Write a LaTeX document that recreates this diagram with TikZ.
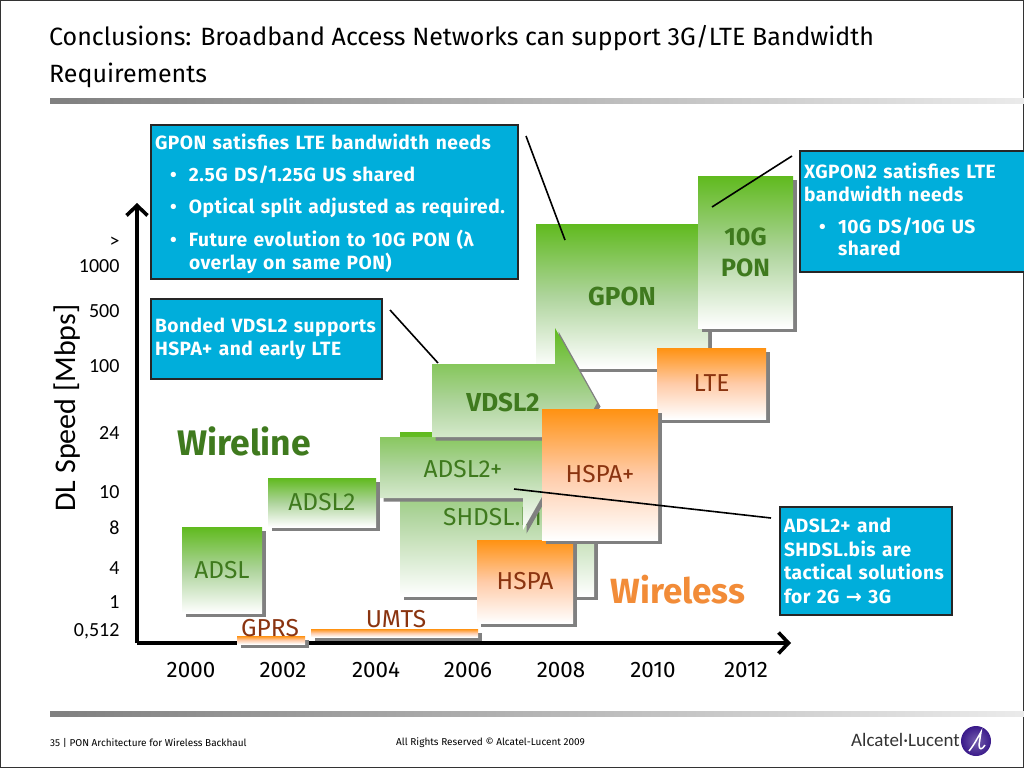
\documentclass[tikz,border=0pt]{standalone}
\usepackage{fontspec}
\usetikzlibrary{shadows,arrows.meta}
\setmainfont{Fira Sans}
\newfontfamily\axisfont{Carlito}
\newfontfamily\symfont{DejaVu Sans}
\newfontfamily\calloutfont{Fira Sans}[LetterSpace=2.5]
\newcommand{\fsize}[1]{\fontsize{#1}{#1}\selectfont}
\newcommand{\bul}{\makebox[38pt][l]{\hspace{19pt}\textbullet}}
\definecolor{wirelinegreen}{HTML}{60BA1E}
\definecolor{wirelessorange}{HTML}{FF9212}
\definecolor{greenmid}{HTML}{AED49C}
\definecolor{orangemid}{HTML}{FFCBA8}
\definecolor{greentext}{HTML}{3F7A1E}
\definecolor{orangetext}{HTML}{8A3410}
\definecolor{wirelesstext}{HTML}{F28C38}
\definecolor{calloutblue}{HTML}{00AEDB}
\definecolor{shadowgray}{HTML}{808080}
\definecolor{logoviolet}{HTML}{3A1A8A}
\begin{document}
\begin{tikzpicture}[
  x = 1pt,
  y = -1pt,
  blockshadow/.style = {
    general shadow = {fill = shadowgray, shadow xshift = 3.5pt, shadow yshift = -3.5pt}
  },
  greenblock/.style = {
    blockshadow,
    shape = rectangle,
    inner sep = 0pt,
    top color = wirelinegreen,
    bottom color = white,
    middle color = greenmid,
    text = greentext,
    font = \fsize{24.5}
  },
  orangeblock/.style = {
    blockshadow,
    shape = rectangle,
    inner sep = 0pt,
    top color = wirelessorange,
    bottom color = white,
    middle color = orangemid,
    text = orangetext,
    font = \fsize{24.5}
  },
  callout/.style = {
    shape = rectangle,
    anchor = north west,
    fill = calloutblue,
    draw = black!85,
    line width = 2pt,
    text = white,
    align = left,
    inner sep = 0pt,
    outer sep = 0pt,
    font = \calloutfont\fsize{19.2}\bfseries
  },
  ticklabel/.style = {
    anchor = east,
    font = \axisfont\fsize{20}
  },
  yearlabel/.style = {
    font = \fsize{22.4}
  },
  leader/.style = {
    line width = 1.6pt
  },
  axis/.style = {
    line width = 3.6pt,
    -{Straight Barb[length = 10pt, width = 21pt, line width = 3.6pt]}
  },
  rulebar/.style = {
    left color = black!50,
    right color = black!8,
    draw = none
  }
]
  \useasboundingbox (0, 0) rectangle (1024, 768);
  \fill[white] (0, 0) rectangle (1024, 768);
  \draw[black!80, line width = 1pt] (0.5, 0.5) rectangle (1023.5, 767.5);

  % title and footer
  \node[anchor = west, inner sep = 0pt, font = \fsize{25}] (title1) at (49, 38) {Conclusions: Broadband Access Networks can support 3G/LTE Bandwidth};
  \node[anchor = west, inner sep = 0pt, font = \fsize{25}] (title2) at (49, 75) {Requirements};
  \path[rulebar] (50, 98) rectangle (1024, 103);
  \path[rulebar] (50, 711) rectangle (1024, 716);
  \node[anchor = west, inner sep = 0pt, font = \fsize{10}] (pagenote) at (50, 743) {35 | PON Architecture for Wireless Backhaul};
  \node[anchor = west, inner sep = 0pt, font = \fsize{10}] (rights) at (396, 743) {All Rights Reserved © Alcatel-Lucent 2009};
  \node[anchor = west, inner sep = 0pt, text = black!80, font = \axisfont\fsize{19}] (brand) at (851, 740) {Alcatel·Lucent};
  \shade[inner color = logoviolet!70!white, outer color = logoviolet] (976, 741) circle (15);
  \draw[white, line width = 1.5pt] (969, 751) .. controls (974, 745) and (978, 737) .. (981, 732) -- (979, 745) .. controls (979, 750) and (982, 750) .. (985, 745);

  % axes
  \coordinate (origin) at (137, 643);
  \coordinate (ytop) at (137, 203);
  \coordinate (xend) at (791, 643);
  \draw[axis] (origin) -- (ytop);
  \draw[axis] (origin) -- (xend);
  \node[rotate = 90, font = \axisfont\fsize{30}] (ytitle) at (67, 408) {DL Speed [Mbps]};

  \node[ticklabel] (t1) at (123, 242) {>};
  \node[ticklabel] (t2) at (123, 266) {1000};
  \node[ticklabel] (t3) at (123, 311) {500};
  \node[ticklabel] (t4) at (123, 366) {100};
  \node[ticklabel] (t5) at (123, 433) {24};
  \node[ticklabel] (t6) at (123, 492) {10};
  \node[ticklabel] (t7) at (123, 528) {8};
  \node[ticklabel] (t8) at (123, 568) {4};
  \node[ticklabel] (t9) at (123, 602) {1};
  \node[ticklabel] (t10) at (123, 631) {0,512};

  \foreach \year/\xpos in {2000/191, 2002/283, 2004/376, 2006/468, 2008/561, 2010/653, 2012/746}
    \node[yearlabel] (y\year) at (\xpos, 670) {\year};

  % wireline blocks
  \node[greenblock, minimum width = 80pt, minimum height = 86pt] (adsl) at (222, 570) {ADSL};
  \node[greenblock, minimum width = 108pt, minimum height = 49pt] (adsl2) at (322, 502.5) {ADSL2};
  \node[greenblock, minimum width = 172pt, minimum height = 144pt, font = \fsize{26}\bfseries] (gpon) at (622, 296) {GPON};
  \node[greenblock, minimum width = 95pt, minimum height = 152pt, align = center, font = \fsize{25}\bfseries] (xpon) at (745.5, 252) {10G\\[6pt]PON};
  \path[greenblock] (400, 432) rectangle (594, 596);
  \node[anchor = west, text = greentext, font = \fsize{24.5}, inner sep = 0pt] (shdsl) at (443, 516) {SHDSL.bis};
  \path[greenblock] (380, 437) -- (523, 437) -- (523, 404) -- (559, 467) -- (523, 530) -- (523, 498) -- (380, 498) -- cycle;
  \node[text = greentext, font = \fsize{24.5}] (adslplus) at (463, 469) {ADSL2+};
  \path[greenblock] (432, 364) -- (555, 364) -- (555, 328) -- (597, 403) -- (555, 476) -- (555, 437) -- (432, 437) -- cycle;
  \node[text = greentext, font = \fsize{26}\bfseries] (vdsl) at (503, 402) {VDSL2};
  \node[font = \fsize{35.5}\bfseries, text = greentext] (wireline) at (244, 441) {Wireline};

  % wireless blocks
  \node[orangeblock, minimum width = 68pt, minimum height = 8pt] (gprsbar) at (271, 640) {};
  \node[text = orangetext, font = \fsize{24.5}] (gprs) at (270, 628) {GPRS};
  \node[orangeblock, minimum width = 167pt, minimum height = 8pt] (umtsbar) at (394.5, 633) {};
  \node[text = orangetext, font = \fsize{24.5}] (umts) at (396, 619) {UMTS};
  \node[orangeblock, minimum width = 96pt, minimum height = 83pt] (hspa) at (525, 581.5) {HSPA};
  \node[orangeblock, minimum width = 109pt, minimum height = 71pt] (lte) at (711.5, 383.5) {LTE};
  \node[orangeblock, minimum width = 116pt, minimum height = 131pt] (hspaplus) at (600, 474.5) {HSPA+};
  \node[font = \fsize{35}\bfseries, text = wirelesstext] (wireless) at (678, 590) {Wireless};

  % callouts
  \node[callout, text width = 367pt, minimum height = 154pt] (gponbox) at (151, 125) {
    \rule{0pt}{19pt}\hspace*{4pt}GPON satisfies LTE bandwidth needs\\[13pt]
    \bul 2.5G DS/1.25G US shared\\[13pt]
    \bul Optical split adjusted as required.\\[11pt]
    \bul Future evolution to 10G PON (λ\\[2pt]
    \hspace*{38pt}overlay on same PON)};
  \node[callout, text width = 231pt, minimum height = 80pt] (vdslbox) at (151, 299) {
    \hspace*{4pt}Bonded VDSL2 supports\\[3.5pt]
    \hspace*{4pt}HSPA+ and early LTE};
  \node[callout, text width = 225pt, minimum height = 121pt] (xponbox) at (800, 151) {
    \hspace*{4pt}XGPON2 satisfies LTE\\[3.5pt]
    \hspace*{4pt}bandwidth needs\\[12.5pt]
    \bul 10G DS/10G US\\[3.5pt]
    \hspace*{38pt}shared\rule[-4pt]{0pt}{0pt}};
  \node[callout, text width = 172pt, minimum height = 108pt] (adslbox) at (780, 507) {
    \hspace*{4pt}ADSL2+ and\\[4.5pt]
    \hspace*{4pt}SHDSL.bis are\\[4.5pt]
    \hspace*{4pt}tactical solutions\\[4.5pt]
    \hspace*{4pt}for 2G {\symfont →} 3G};

  % leader lines
  \coordinate (gponend) at (565, 240);
  \coordinate (gponstart) at (526, 136);
  \coordinate (xponend) at (712, 207);
  \coordinate (xponstart) at (792, 156);
  \coordinate (vdslend) at (438, 363);
  \coordinate (vdslstart) at (390, 310);
  \coordinate (adslend) at (514, 489);
  \coordinate (adslstart) at (771, 518);
  \draw[leader] (gponstart) -- (gponend);
  \draw[leader] (xponstart) -- (xponend);
  \draw[leader] (vdslstart) -- (vdslend);
  \draw[leader] (adslstart) -- (adslend);
\end{tikzpicture}
\end{document}
